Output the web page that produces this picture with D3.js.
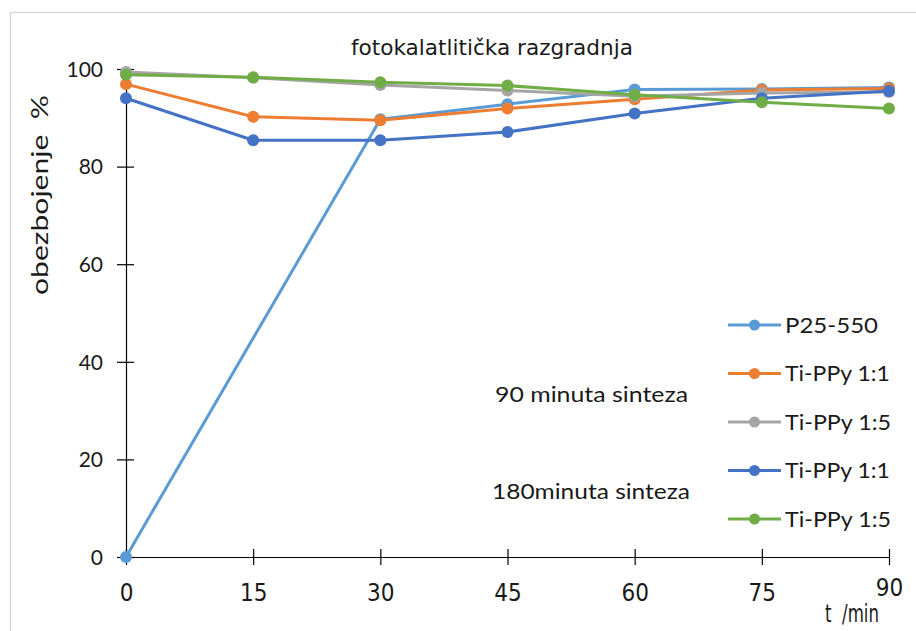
<!DOCTYPE html>
<html>
<head>
<meta charset="utf-8">
<script src="https://cdn.jsdelivr.net/npm/d3@7"></script>
<style>
  html, body { margin: 0; padding: 0; background: #fff; }
  svg { display: block; }
</style>
</head>
<body>
<svg id="chart" width="916" height="631"></svg>
<script>
// ---- data ----
const times = [0, 15, 30, 45, 60, 75, 90];
const xTickLabels = ["0", "15", "30", "45", "60", "75", "90"];
const yTickLabels = [0, 20, 40, 60, 80, 100];
const seriesNames = ["P25-550", "Ti-PPy 1:1", "Ti-PPy 1:5", "Ti-PPy 1:1", "Ti-PPy 1:5"];
const p25_550     = [0, null, 89.7, 92.8, 95.8, 95.9, 96.2];
const tippy11_90  = [96.9, 90.2, 89.5, 91.9, 93.8, 95.7, 96.0];
const tippy15_90  = [99.4, 98.2, 96.7, 95.6, 94.4, 95.1, 95.3];
const tippy11_180 = [94.0, 85.4, 85.4, 87.1, 90.9, 94.0, 95.5];
const tippy15_180 = [98.8, 98.3, 97.3, 96.6, 94.7, 93.2, 91.9];
const seriesColors = ["#5B9BD5", "#ED7D31", "#A5A5A5", "#4472C4", "#70AD47"];
const chartTitle = "fotokalatlitička razgradnja";
const yTitle = "obezbojenje  %";
const xTitle = "t  /min";
const notes = ["90 minuta sinteza", "180minuta sinteza"];

const allSeries = [p25_550, tippy11_90, tippy15_90, tippy11_180, tippy15_180];

// ---- layout ----
const svg = d3.select("#chart");
const narrow = "'Liberation Sans Narrow','DejaVu Sans Condensed',sans-serif";
const normal = "Lato,'Open Sans',sans-serif";
const ink = "#1a1a1a";

const x = d3.scaleLinear().domain([0, 90]).range([126, 889]);
const y = d3.scaleLinear().domain([0, 100]).range([557, 69]);

// frame
svg.append("rect").attr("x", 10.5).attr("y", 12.5).attr("width", 920).attr("height", 640)
  .attr("fill", "#fff").attr("stroke", "#d9d9d9").attr("stroke-width", 1.5);

// title
svg.append("text").attr("x", 492).attr("y", 55).attr("text-anchor", "middle")
  .attr("font-family", narrow).attr("font-size", 22).attr("fill", ink)
  .attr("textLength", 282).attr("lengthAdjust", "spacingAndGlyphs")
  .text(chartTitle);

// y axis
const yAxis = d3.axisLeft(y).tickValues(yTickLabels).tickSize(0).tickPadding(0).tickFormat(d3.format("d"));
const yg = svg.append("g").attr("transform", `translate(${x(0)},0)`).call(yAxis);
yg.select(".domain").attr("stroke", "#000").attr("stroke-width", 1.2);
yg.selectAll(".tick line").remove();
yg.selectAll(".tick").append("line").attr("x1", -9).attr("x2", 8).attr("stroke", "#000").attr("stroke-width", 1.2);
yg.selectAll(".tick text").attr("x", -23).attr("dy", "0.35em")
  .attr("font-family", normal).attr("font-size", 21).attr("fill", ink);

// x axis
const xAxis = d3.axisBottom(x).tickValues(times).tickSize(0).tickPadding(0).tickFormat((d, i) => xTickLabels[i]);
const xg = svg.append("g").attr("transform", `translate(0,${y(0)})`).call(xAxis);
xg.select(".domain").attr("stroke", "#000").attr("stroke-width", 1.2);
xg.selectAll(".tick line").remove();
xg.selectAll(".tick").append("line").attr("y1", -8).attr("y2", 8).attr("stroke", "#000").attr("stroke-width", 1.2);
xg.selectAll(".tick text").attr("y", (d, i) => i === times.length - 1 ? 39 : 44).attr("dy", 0)
  .attr("font-family", narrow).attr("font-size", 24).attr("fill", ink);

// axis titles
svg.append("text").attr("transform", "translate(48,195) rotate(-90)").attr("text-anchor", "middle")
  .attr("font-family", normal).attr("font-size", 23).attr("fill", ink)
  .attr("textLength", 200).attr("lengthAdjust", "spacingAndGlyphs")
  .style("white-space", "pre").text(yTitle);
svg.append("text").attr("x", 825).attr("y", 622).attr("font-family", narrow).attr("font-size", 24)
  .attr("fill", ink).attr("textLength", 54).attr("lengthAdjust", "spacingAndGlyphs")
  .style("white-space", "pre").text(xTitle);

// annotations
svg.append("text").attr("x", 495).attr("y", 402)
  .attr("font-family", normal).attr("font-size", 21).attr("fill", ink)
  .attr("textLength", 193).attr("lengthAdjust", "spacingAndGlyphs").text(notes[0]);
svg.append("text").attr("x", 492).attr("y", 499)
  .attr("font-family", normal).attr("font-size", 21).attr("fill", ink)
  .attr("textLength", 198).attr("lengthAdjust", "spacingAndGlyphs").text(notes[1]);

// series
const line = d3.line().x(d => x(d.t)).y(d => y(d.v));
allSeries.forEach((vals, si) => {
  const pts = times.map((t, i) => ({ t, v: vals[i] })).filter(d => d.v !== null);
  const g = svg.append("g");
  g.append("path").datum(pts).attr("d", line).attr("fill", "none")
    .attr("stroke", seriesColors[si]).attr("stroke-width", 3).attr("stroke-linejoin", "round");
  g.selectAll("circle").data(pts).join("circle")
    .attr("cx", d => x(d.t)).attr("cy", d => y(d.v)).attr("r", 6)
    .attr("fill", seriesColors[si]);
});

// legend
const legendWidths = [93, 105, 106, 105, 106];
const leg = svg.append("g");
seriesNames.forEach((name, i) => {
  const ly = 325 + i * 48.5;
  leg.append("line").attr("x1", 728).attr("x2", 781).attr("y1", ly).attr("y2", ly)
    .attr("stroke", seriesColors[i]).attr("stroke-width", 3);
  leg.append("circle").attr("cx", 754.5).attr("cy", ly).attr("r", 5.5).attr("fill", seriesColors[i]);
  leg.append("text").attr("x", 785).attr("y", ly).attr("dy", "0.36em")
    .attr("font-family", normal).attr("font-size", 22).attr("fill", ink)
    .attr("textLength", legendWidths[i]).attr("lengthAdjust", "spacingAndGlyphs").text(name);
});
</script>
</body>
</html>
